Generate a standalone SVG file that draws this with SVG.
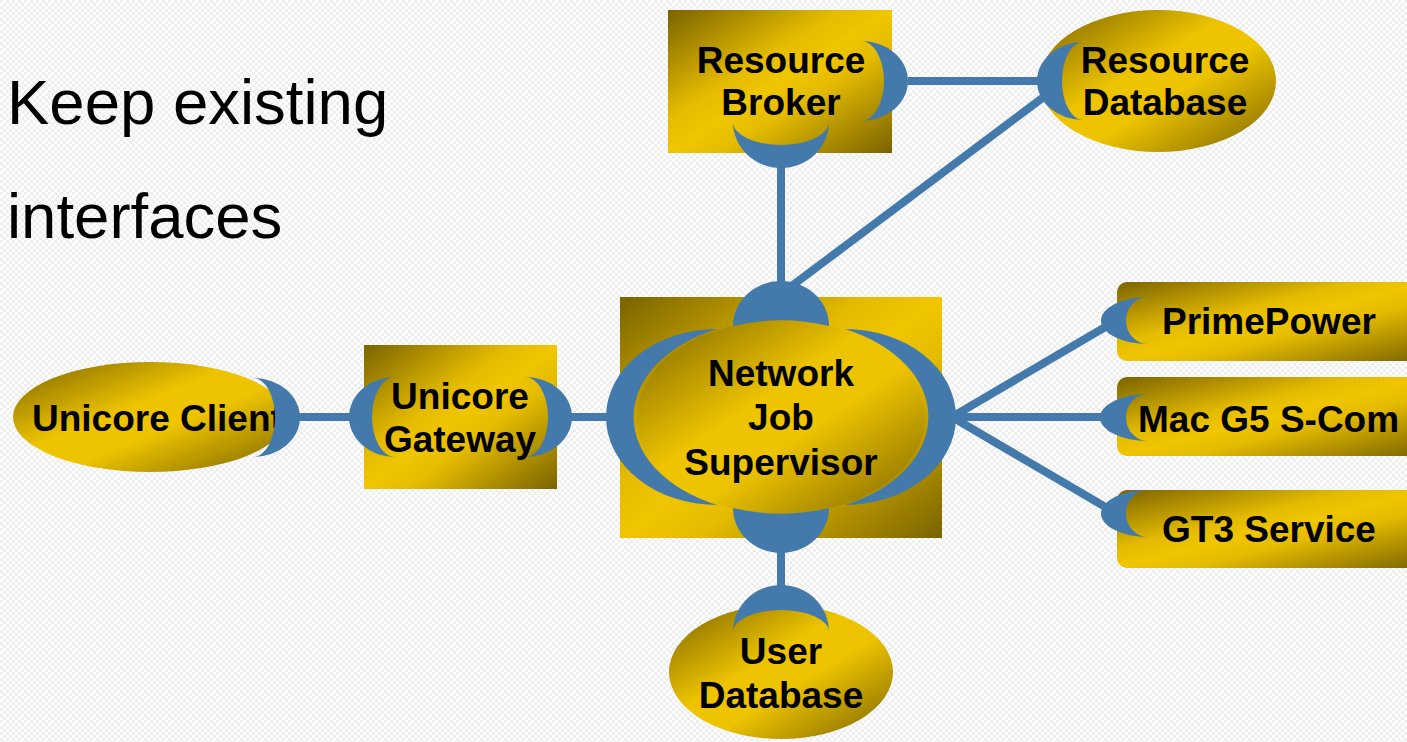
<svg xmlns="http://www.w3.org/2000/svg" width="1407" height="742" viewBox="0 0 1407 742">
<defs>
<pattern id="bg" width="6" height="6" patternUnits="userSpaceOnUse">
<rect width="6" height="6" fill="#ffffff"/>
<rect width="3" height="3" fill="#eeeeee"/>
<rect x="3" y="3" width="3" height="3" fill="#eeeeee"/>
</pattern>
<linearGradient id="gold" x1="0" y1="0" x2="1" y2="1">
<stop offset="0" stop-color="#7a6300"/>
<stop offset="0.38" stop-color="#e4bb00"/>
<stop offset="0.5" stop-color="#f0c600"/>
<stop offset="0.62" stop-color="#e4bb00"/>
<stop offset="1" stop-color="#7a6300"/>
</linearGradient>
<linearGradient id="goldE" x1="0" y1="0" x2="1" y2="1">
<stop offset="0" stop-color="#7a6300"/>
<stop offset="0.42" stop-color="#eec400"/>
<stop offset="0.58" stop-color="#eec400"/>
<stop offset="1" stop-color="#7a6300"/>
</linearGradient>
<style>
.lbl{font-family:"Liberation Sans",Arial,sans-serif;font-weight:bold;font-size:37px;fill:#000;}
.mid{text-anchor:middle;}
.big{font-family:"Liberation Sans",Arial,sans-serif;font-size:63.5px;fill:#000;}
.cr{fill:#4379ab;}
.ln{stroke:#4379ab;stroke-width:8;fill:none;}
</style>
</defs>
<rect width="1407" height="742" fill="url(#bg)"/>
<text class="big" x="7" y="124">Keep existing</text>
<text class="big" x="7" y="238">interfaces</text>

<g id="connectors">
<line class="ln" x1="908" y1="81" x2="1040" y2="81"/>
<line class="ln" x1="781" y1="165" x2="781" y2="285"/>
<line class="ln" x1="785" y1="291" x2="1045" y2="96"/>
<line class="ln" x1="296" y1="417" x2="352" y2="417"/>
<line class="ln" x1="568" y1="417" x2="609" y2="417"/>
<line class="ln" x1="952" y1="417" x2="1107" y2="326"/>
<line class="ln" x1="952" y1="417" x2="1104" y2="417"/>
<line class="ln" x1="952" y1="417" x2="1107" y2="508"/>
<line class="ln" x1="781" y1="550" x2="781" y2="588"/>
</g>

<g id="resource-broker">
<rect x="668" y="10" width="224" height="143" fill="url(#gold)"/>
<text class="lbl mid" x="781" y="73">Resource</text>
<text class="lbl mid" x="781" y="115">Broker</text>
<path class="cr" d="M861,41 A47,40 0 0 1 861,121 A23,40 0 0 0 861,41 Z"/>
<path class="cr" d="M733,122 A48,46 0 0 0 829,122 A48,23 0 0 1 733,122 Z"/>
</g>

<g id="resource-database">
<ellipse cx="1158" cy="81" rx="118" ry="71" fill="url(#goldE)"/>
<path class="cr" d="M1083,42 A46,39 0 0 0 1083,120 A21,39 0 0 1 1083,42 Z"/>
<text class="lbl mid" x="1165" y="73">Resource</text>
<text class="lbl mid" x="1165" y="115">Database</text>
</g>

<g id="network-job-supervisor">
<rect x="620" y="297" width="322" height="241" fill="url(#gold)"/>
<ellipse cx="781" cy="417" rx="144" ry="97" fill="url(#goldE)"/>
<path class="cr" d="M717,329 A111,88 0 0 0 717,505 A144,97 0 0 1 717,329 Z"/>
<path class="cr" d="M845,329 A111,88 0 0 1 845,505 A144,97 0 0 0 845,329 Z"/>
<path class="cr" d="M733,326 A48,45 0 0 1 829,326 A144,97 0 0 0 733,326 Z"/>
<path class="cr" d="M733,508 A48,45 0 0 0 829,508 A144,97 0 0 1 733,508 Z"/>
<text class="lbl mid" x="781" y="386">Network</text>
<text class="lbl mid" x="781" y="430">Job</text>
<text class="lbl mid" x="781" y="475">Supervisor</text>
</g>

<g id="unicore-client">
<ellipse cx="150" cy="417" rx="137" ry="55" fill="url(#goldE)"/>
<text class="lbl" x="32" y="431">Unicore Client</text>
<path class="cr" d="M253,378 A47,39.5 0 0 1 253,457 A22,39.5 0 0 0 253,378 Z"/>
</g>

<g id="unicore-gateway">
<rect x="364" y="345" width="193" height="144" fill="url(#gold)"/>
<path class="cr" d="M395,377 A46,40 0 0 0 395,457 A23,40 0 0 1 395,377 Z"/>
<text class="lbl mid" x="460" y="409">Unicore</text>
<text class="lbl mid" x="460" y="452">Gateway</text>
<path class="cr" d="M525,377 A47,40 0 0 1 525,457 A23,40 0 0 0 525,377 Z"/>
</g>

<g id="primepower">
<rect x="1117" y="282" width="310" height="79" rx="10" fill="url(#gold)"/>
<path class="cr" d="M1148,297 A47,23.5 0 0 0 1148,344 A22,23.5 0 0 1 1148,297 Z"/>
<text class="lbl" x="1162" y="334">PrimePower</text>
</g>

<g id="mac-g5">
<rect x="1117" y="377" width="310" height="79" rx="10" fill="url(#gold)"/>
<path class="cr" d="M1148,394 A48,23.5 0 0 0 1148,441 A22,23.5 0 0 1 1148,394 Z"/>
<text class="lbl" x="1138" y="432">Mac G5 S-Com</text>
</g>

<g id="gt3-service">
<rect x="1117" y="490" width="310" height="78" rx="10" fill="url(#gold)"/>
<path class="cr" d="M1148,490 A47,23.5 0 0 0 1148,537 A22,23.5 0 0 1 1148,490 Z"/>
<text class="lbl" x="1162" y="542">GT3 Service</text>
</g>

<g id="user-database">
<ellipse cx="781" cy="672" rx="112" ry="67" fill="url(#goldE)"/>
<path class="cr" d="M733,632 A48,47 0 0 1 829,632 A48,22 0 0 0 733,632 Z"/>
<text class="lbl mid" x="781" y="664">User</text>
<text class="lbl mid" x="781" y="708">Database</text>
</g>
</svg>
